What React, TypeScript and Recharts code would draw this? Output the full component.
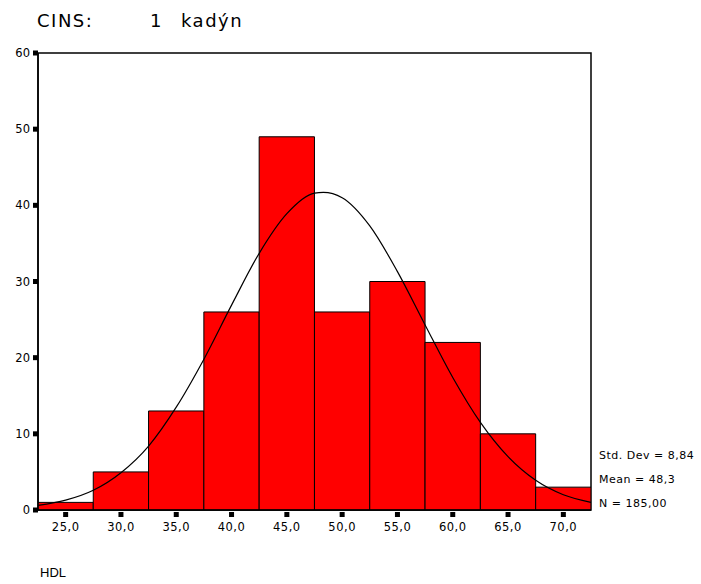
import React from 'react';
import { ComposedChart, Bar, Line, XAxis, YAxis, ReferenceArea, Rectangle } from 'recharts';

// histogram bins (centre of each 5-unit class) and counts
const binCenters = [25, 30, 35, 40, 45, 50, 55, 60, 65, 70];
const binCounts = [1, 5, 13, 26, 49, 26, 30, 22, 10, 3];

// fitted normal curve
const curveX = [22.5, 25, 27.5, 30, 32.5, 35, 37.5, 40, 42.5, 45, 47.5, 48.3, 50, 52.5, 55, 57.5, 60, 62.5, 65, 67.5, 70, 72.5];
const curveY = [0.6, 1.3, 2.6, 4.9, 8.4, 13.5, 19.8, 26.9, 33.7, 38.9, 41.6, 41.7, 41.0, 37.3, 31.3, 24.3, 17.4, 11.5, 7.0, 3.9, 2.0, 1.0];

const xTicks = [25, 30, 35, 40, 45, 50, 55, 60, 65, 70];
const yTicks = [0, 10, 20, 30, 40, 50, 60];

const stats = ['Std. Dev = 8,84', 'Mean = 48,3', 'N = 185,00'];

const bins = binCenters.map((x, i) => ({ x, count: binCounts[i] }));
const curve = curveX.map((x, i) => ({ x, y: curveY[i] }));

const W = 701;
const H = 584;
const margin = { top: 53, right: 110, bottom: 44, left: 0 };
const yAxisWidth = 38;
// each bin spans the full class width of the plot
const binWidth = (W - margin.left - margin.right - yAxisWidth) / binCenters.length;

const tickFont = { fontFamily: 'DejaVu Sans', fontSize: 11.5, fill: '#000' };

function YTick(props: any) {
  const { x, y, payload } = props;
  return (
    <g>
      <rect x={x - 5} y={y - 2.5} width={5} height={5} fill="#000" />
      <text x={x - 8} y={y + 4} textAnchor="end" {...tickFont}>{payload.value}</text>
    </g>
  );
}

function XTick(props: any) {
  const { x, y, payload } = props;
  return (
    <g>
      <rect x={x - 2.5} y={y + 2} width={5} height={5} fill="#000" />
      <text x={x} y={y + 21} textAnchor="middle" {...tickFont} letterSpacing={0.5}>
        {payload.value.toFixed(1).replace('.', ',')}
      </text>
    </g>
  );
}

function BinShape(props: any) {
  const { x, y, width, height } = props;
  const cx = x + width / 2;
  return (
    <Rectangle x={cx - binWidth / 2} y={y} width={binWidth} height={height} fill="#ff0000" stroke="#000" strokeWidth={1} />
  );
}

export default function App() {
  return (
    <div style={{ position: 'absolute', left: 0, top: 0, width: W, height: H, background: '#fff' }}>
      <ComposedChart width={W} height={H} data={bins} margin={margin}>
        <XAxis
          dataKey="x"
          type="number"
          domain={[22.5, 72.5]}
          ticks={xTicks}
          allowDataOverflow
          height={30}
          tickSize={0}
          tickMargin={0}
          tickLine={false}
          axisLine={{ stroke: '#000', strokeWidth: 1.5 }}
          tick={<XTick />}
          interval={0}
        />
        <YAxis
          type="number"
          domain={[0, 60]}
          ticks={yTicks}
          width={yAxisWidth}
          tickSize={0}
          tickMargin={0}
          tickLine={false}
          axisLine={{ stroke: '#000', strokeWidth: 1.5 }}
          tick={<YTick />}
          interval={0}
        />
        <Bar dataKey="count" shape={<BinShape />} isAnimationActive={false} />
        <Line
          data={curve}
          dataKey="y"
          type="monotone"
          stroke="#000"
          strokeWidth={1.2}
          dot={false}
          isAnimationActive={false}
        />
        <ReferenceArea x1={22.5} x2={72.5} y1={0} y2={60} fill="none" stroke="#000" strokeWidth={1.5} ifOverflow="visible" />
      </ComposedChart>
      <svg width={W} height={H} style={{ position: 'absolute', left: 0, top: 0, pointerEvents: 'none' }}>
        <g fontFamily="DejaVu Sans" fontSize={18} fill="#000">
          <text x={37} y={27} letterSpacing={1.5}>CINS:</text>
          <text x={150} y={27}>1</text>
          <text x={181} y={27} letterSpacing={1.5}>kadýn</text>
        </g>
        <g fontFamily="DejaVu Sans" fontSize={11} fill="#000" letterSpacing={0.5}>
          {stats.map((s, i) => (
            <text key={s} x={599} y={459 + i * 24}>{s}</text>
          ))}
        </g>
        <text x={40} y={577} fontFamily="Liberation Sans" fontSize={13} fill="#000">HDL</text>
      </svg>
    </div>
  );
}
